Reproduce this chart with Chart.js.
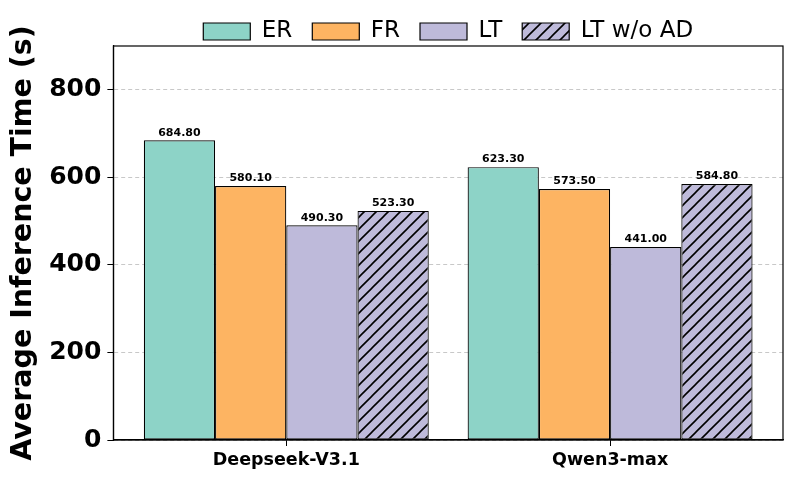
<!DOCTYPE html>
<html>
<head>
<meta charset="utf-8">
<script src="https://cdn.jsdelivr.net/npm/chart.js@4"></script>
<style>
  body { margin: 0; background: #fff; }
  #wrap { width: 793px; height: 479px; }
</style>
</head>
<body>
<div id="wrap"><canvas id="chart" width="793" height="479"></canvas></div>
<script>
const models = ["Deepseek-V3.1", "Qwen3-max"];
const seriesNames = ["ER", "FR", "LT", "LT w/o AD"];
const erValues = [684.8, 623.3];
const frValues = [580.1, 573.5];
const ltValues = [490.3, 441.0];
const ltNoAdValues = [523.3, 584.8];
const yTicks = [0, 200, 400, 600, 800];

// hatch fill for the "w/o AD" bars
function makeHatch(bg) {
  const s = 12;
  const c = document.createElement("canvas");
  c.width = s; c.height = s;
  const g = c.getContext("2d");
  g.fillStyle = bg;
  g.fillRect(0, 0, s, s);
  g.strokeStyle = "#000";
  g.lineWidth = 1.6;
  g.beginPath();
  g.moveTo(0, s); g.lineTo(s, 0);
  g.moveTo(-s / 2, s / 2); g.lineTo(s / 2, -s / 2);
  g.moveTo(s / 2, s * 1.5); g.lineTo(s * 1.5, s / 2);
  g.stroke();
  return document.getElementById("chart").getContext("2d").createPattern(c, "repeat");
}

const hatch = makeHatch("#bebada");

// value labels above the bars
const valueLabels = {
  id: "valueLabels",
  afterDatasetsDraw(chart) {
    const ctx = chart.ctx;
    ctx.save();
    ctx.font = "bold 11px 'DejaVu Sans'";
    ctx.fillStyle = "#000";
    ctx.textAlign = "center";
    ctx.textBaseline = "bottom";
    chart.data.datasets.forEach((ds, i) => {
      chart.getDatasetMeta(i).data.forEach((bar, j) => {
        ctx.fillText(ds.data[j].y.toFixed(2), bar.x, bar.y - 2);
      });
    });
    ctx.restore();
  }
};

// full box round the plot area, legend centred over the plot
const frame = {
  id: "frame",
  afterLayout(chart) {
    const lg = chart.legend;
    lg.left = chart.chartArea.left;
    lg.right = chart.chartArea.right;
    lg.width = lg.right - lg.left;
  },
  afterDraw(chart) {
    const a = chart.chartArea;
    const ctx = chart.ctx;
    ctx.save();
    ctx.strokeStyle = "#000";
    ctx.lineWidth = 1.2;
    ctx.strokeRect(a.left, a.top, a.right - a.left, a.bottom - a.top);
    ctx.restore();
  }
};

const fills = ["#8dd3c7", "#fdb462", "#bebada", hatch];
const values = [erValues, frValues, ltValues, ltNoAdValues];

new Chart(document.getElementById("chart"), {
  type: "bar",
  data: {
    datasets: seriesNames.map((name, i) => ({
      label: name,
      data: values[i].map((v, j) => ({ x: j, y: v })),
      backgroundColor: fills[i],
      borderColor: "#000",
      borderWidth: 1.2,
      borderSkipped: false,
      categoryPercentage: 0.88,
      barPercentage: 1.0
    }))
  },
  options: {
    responsive: false,
    animation: false,
    layout: { padding: { left: 6, right: 10, top: 0, bottom: 4 } },
    plugins: {
      legend: {
        position: "top",
        maxHeight: 46,
        labels: {
          font: { family: "DejaVu Sans", size: 23 },
          color: "#000",
          boxWidth: 47,
          boxHeight: 17,
          padding: 20
        }
      },
      tooltip: { enabled: false }
    },
    scales: {
      x: {
        type: "linear",
        min: -0.534,
        max: 1.534,
        offset: false,
        afterBuildTicks(axis) { axis.ticks = models.map((m, j) => ({ value: j })); },
        grid: {
          offset: false,
          drawOnChartArea: false,
          drawTicks: true,
          tickLength: 6,
          tickColor: "#000"
        },
        border: { color: "#000", width: 1.2 },
        ticks: {
          font: { family: "DejaVu Sans", size: 17.5, weight: "bold" },
          color: "#000",
          padding: 4,
          callback: (v) => models[v]
        }
      },
      y: {
        min: 0,
        max: 900,
        afterBuildTicks(axis) { axis.ticks = yTicks.map(v => ({ value: v })); },
        afterFit(axis) { axis.paddingTop = 0; },
        grid: {
          color: "#c8c8c8",
          drawTicks: true,
          tickLength: 6,
          tickColor: "#000"
        },
        border: { color: "#000", width: 1.2, dash: [4, 3] },
        ticks: { font: { family: "DejaVu Sans", size: 25, weight: "bold" }, color: "#000", padding: 6 },
        title: {
          display: true,
          text: "Average Inference Time (s)",
          font: { family: "DejaVu Sans", size: 28.5, weight: "bold" },
          color: "#000",
          padding: { top: 0, bottom: 3 }
        }
      }
    }
  },
  plugins: [valueLabels, frame]
});
</script>
</body>
</html>
